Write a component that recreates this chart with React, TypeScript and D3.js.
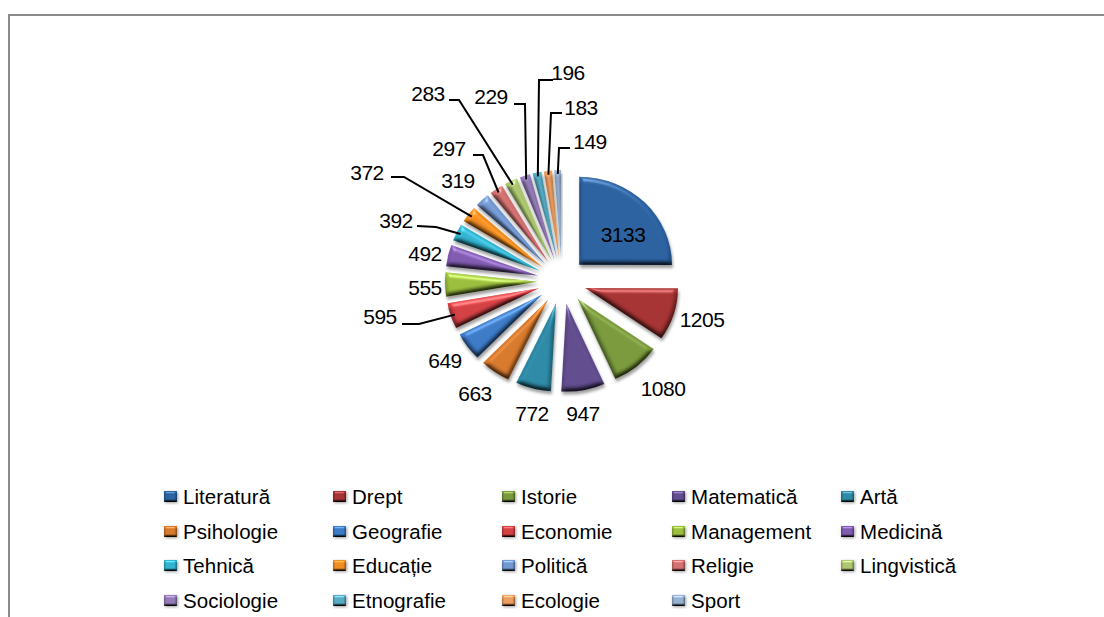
import React from "react";
import * as d3 from "d3";

const categories = ["Literatură","Drept","Istorie","Matematică","Artă","Psihologie","Geografie","Economie","Management","Medicină","Tehnică","Educație","Politică","Religie","Lingvistică","Sociologie","Etnografie","Ecologie","Sport"];
const values = [3133,1205,1080,947,772,663,649,595,555,492,392,372,319,297,283,229,196,183,149];
const colors = ["#2a5f9e","#a33131","#77973a","#5f4a8b","#2b87a3","#d5772a","#3a78c4","#d13e42","#98bb3c","#7d58ad","#2fb0cd","#ef8a1f","#7095cf","#d06e6e","#a9c46c","#9178b5","#54a9c2","#ea9c5e","#95aecf"];
// label position (x, baseline y), text anchor middle
const labelPos: [number, number][] = [[623,242],[702,327],[663,396],[583,421],[532,421],[475,401],[445,368],[380,324],[425,295],[425,261],[396,228],[367,180],[458,188],[449,156],[428,101],[491,104],[568,80],[581,115],[590,149]];
// leader elbow: [label-side x, label-side y], null if no leader
const leaderKnee: ([number, number, number, number] | null)[] = [null,null,null,null,null,null,null,[402,324,419,324],null,null,[417,226,436,227],[391,177,404,177],null,[473,155,483,155],[449,100,459,100],[514,104,525,104],[553,80,539,80],[562,113,551,113],[570,148,559,148]];

const cx = 562, cy = 281, R = 88, sx = 1.055, explode = 23;
const legendCols = [164,333,502,672,841];
const legendRows = [497,532,566,601];
const FONT = "'Liberation Sans', Arial, sans-serif";

function Bevel({id, blur, scale, shadow}: {id:string; blur:number; scale:number; shadow:number}) {
  return (
    <filter id={id} x="-20%" y="-20%" width="140%" height="140%" colorInterpolationFilters="sRGB">
      <feGaussianBlur in="SourceAlpha" stdDeviation={blur} result="b"/>
      <feDiffuseLighting in="b" surfaceScale={scale} diffuseConstant="1.414" lightingColor="#fff" result="dl">
        <feDistantLight azimuth="265" elevation="45"/>
      </feDiffuseLighting>
      <feComposite in="dl" in2="SourceAlpha" operator="in" result="dlc"/>
      <feBlend in="SourceGraphic" in2="dlc" mode="multiply" result="lit"/>
      <feSpecularLighting in="b" surfaceScale={scale} specularConstant=".5" specularExponent="40" lightingColor="#fff" result="sl">
        <feDistantLight azimuth="265" elevation="45"/>
      </feSpecularLighting>
      <feComposite in="sl" in2="SourceAlpha" operator="in" result="slc"/>
      <feComposite in="lit" in2="slc" operator="arithmetic" k1="0" k2="1" k3=".6" k4="0" result="shape"/>
      <feGaussianBlur in="SourceAlpha" stdDeviation="1.5" result="sb"/>
      <feOffset in="sb" dx="0.5" dy={shadow} result="so"/>
      <feFlood floodColor="#000" floodOpacity=".38"/>
      <feComposite in2="so" operator="in" result="shadow"/>
      <feMerge><feMergeNode in="shadow"/><feMergeNode in="shape"/></feMerge>
    </filter>
  );
}

export default function App() {
  const pie = d3.pie<number>().value(d=>d).sort(null)(values);
  const arc = d3.arc<d3.PieArcDatum<number>>().innerRadius(0).outerRadius(R);
  const off = (d: d3.PieArcDatum<number>, k: number) => {
    const m = (d.startAngle + d.endAngle) / 2;
    return [cx + k * Math.sin(m) * sx, cy - k * Math.cos(m)];
  };
  return (
    <svg width={1104} height={617} style={{position:"absolute",left:0,top:0,background:"#fff"}} fontFamily={FONT}>
      <defs>
        <Bevel id="bevel" blur={2.6} scale={2.4} shadow={2.5}/>
        <Bevel id="bevelS" blur={1.3} scale={1.6} shadow={1}/>
      </defs>
      <path d="M9 617V15H1104" fill="none" stroke="#8a8a8a" strokeWidth={2}/>
      {pie.map((d,i)=>{
        const [x,y]=off(d,explode);
        return <path key={i} d={arc(d)!} fill={colors[i]} filter="url(#bevel)" transform={`translate(${x},${y}) scale(${sx},1)`}/>;
      })}
      {pie.map((d,i)=>{
        const k = leaderKnee[i];
        if(!k) return null;
        const [px,py]=off(d,explode+R-4);
        return <polyline key={i} points={`${k[0]},${k[1]} ${k[2]},${k[3]} ${px},${py}`} fill="none" stroke="#000" strokeWidth={2}/>;
      })}
      {values.map((v,i)=>(
        <text key={i} x={labelPos[i][0]} y={labelPos[i][1]} textAnchor="middle" fontSize={21} letterSpacing={-0.5} fill="#000">{v}</text>
      ))}
      {categories.map((c,i)=>{
        const col=i%5,row=Math.floor(i/5);
        const x=legendCols[col],y=legendRows[row];
        return <g key={c}>
          <rect x={x} y={y-6} width={13} height={11} fill={colors[i]} filter="url(#bevelS)"/>
          <text x={x+19} y={y+7} fontSize={20.5} letterSpacing={0.05} fill="#000">{c}</text>
        </g>;
      })}
    </svg>
  );
}
